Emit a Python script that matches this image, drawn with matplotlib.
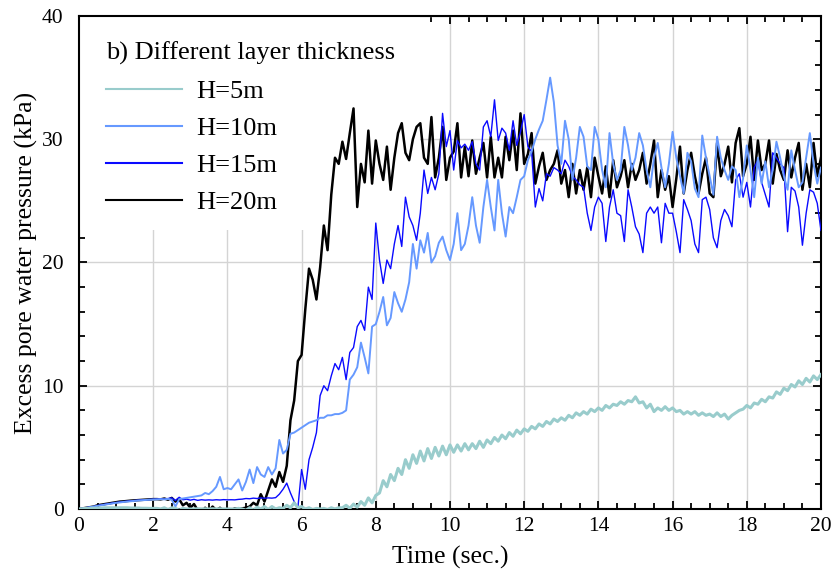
import numpy as np
import matplotlib.pyplot as plt
from matplotlib.patches import Rectangle
from matplotlib.ticker import MultipleLocator

plt.rcParams['font.family'] = ['Liberation Serif', 'DejaVu Serif']

# time axis (sec.), 0.1 s sampling
time = np.linspace(0, 20, 201)

# excess pore water pressure (kPa)
p_h5 = [0.0,
        0.02, 0.04, 0.05, 0.06, 0.08, 0.08, 0.1, 0.1, 0.1, 0.1,
        0.1, 0.1, 0.1, 0.08, 0.08, 0.08, 0.06, 0.06, 0.05, 0.05,
        0.05, 0.0, 0.1, -0.05, 0.1, 0.05, -0.1, 0.05, 0.0, 0.0,
        0.0, 0.02, 0.0, 0.02, 0.0, 0.02, 0.0, 0.02, 0.0, 0.0,
        0.0, 0.0, 0.05, 0.0, -0.1, 0.1, -0.1, 0.15, 0.0, 0.2,
        -0.05, 0.2, 0.0, 0.1, 0.05, 0.3, 0.1, 0.5, 0.1, 0.2,
        0.0, 0.1, -0.05, 0.05, 0.0, 0.05, -0.05, 0.1, 0.0, 0.1,
        0.1, 0.3, 0.05, 0.4, 0.15, 0.6, 0.3, 0.9, 0.5, 1.1,
        1.3, 2.3, 1.8, 2.8, 2.3, 3.3, 2.8, 4.0, 3.3, 4.4,
        3.7, 4.7, 3.9, 4.9, 4.1, 5.0, 4.3, 5.1, 4.4, 5.2,
        4.6, 5.2, 4.7, 5.3, 4.8, 5.3, 4.9, 5.5, 5.0, 5.6,
        5.3, 5.8, 5.5, 6.0, 5.7, 6.2, 5.9, 6.4, 6.1, 6.5,
        6.3, 6.7, 6.5, 6.9, 6.7, 7.1, 6.9, 7.3, 7.1, 7.4,
        7.2, 7.6, 7.4, 7.8, 7.6, 7.9, 7.7, 8.1, 7.9, 8.2,
        8.0, 8.4, 8.2, 8.5, 8.4, 8.7, 8.5, 8.8, 8.7, 9.1,
        8.6, 8.7, 8.2, 8.5, 7.9, 8.2, 8.0, 8.3, 8.0, 8.2,
        7.9, 8.0, 7.7, 7.9, 7.7, 7.9, 7.6, 7.8, 7.6, 7.7,
        7.5, 7.8, 7.5, 7.7, 7.3, 7.6, 7.8, 8.0, 8.1, 8.4,
        8.2, 8.6, 8.5, 8.9, 8.7, 9.1, 9.0, 9.5, 9.3, 9.8,
        9.6, 10.1, 9.9, 10.4, 10.1, 10.6, 10.3, 10.8, 10.5, 10.9]

p_h10 = [0.0,
         0.05, 0.1, 0.15, 0.2, 0.25, 0.3, 0.35, 0.4, 0.45, 0.5,
         0.53, 0.57, 0.6, 0.63, 0.66, 0.69, 0.71, 0.73, 0.75, 0.77,
         0.78, 0.8, 0.78, 0.82, 0.75, 0.2, 0.8, 0.85, 0.9, 0.95,
         1.0, 1.05, 1.1, 1.3, 1.2, 1.45, 1.8, 2.6, 1.6, 1.7,
         1.6, 2.0, 2.4, 1.5, 2.2, 3.2, 2.1, 3.4, 2.8, 2.6,
         3.4, 2.8, 3.3, 5.6, 4.5, 4.8, 6.1, 6.2, 6.4, 6.6,
         6.8, 7.0, 7.1, 7.2, 7.4, 7.4, 7.6, 7.6, 7.7, 7.7,
         7.8, 8.0, 10.5, 10.9, 11.5, 13.5, 12.3, 11.0, 14.8, 15.0,
         16.0, 17.2, 14.9, 15.5, 17.6, 16.7, 16.0, 17.0, 18.4, 21.5,
         19.5, 21.8, 20.8, 22.4, 20.0, 20.5, 21.6, 22.1, 21.0, 20.2,
         21.5, 24.0, 21.0, 21.5, 23.0, 25.3, 23.0, 21.6, 24.5, 26.7,
         24.5, 22.6, 26.7, 24.0, 22.1, 24.5, 24.0, 25.3, 26.7, 27.0,
         28.3, 29.0, 30.0, 30.8, 31.5, 33.2, 35.0, 33.0, 29.5, 28.0,
         31.5, 30.0, 26.7, 28.5, 31.0, 30.2, 27.8, 27.5, 31.0, 30.0,
         27.5, 26.1, 30.5, 28.0, 26.7, 27.5, 31.0, 29.5, 27.5, 28.5,
         30.5, 29.5, 27.5, 26.1, 28.5, 29.7, 27.7, 26.1, 28.0, 30.6,
         28.5, 27.0, 25.6, 28.9, 28.2, 26.0, 25.3, 30.3, 28.5, 27.0,
         25.5, 30.2, 28.5, 27.5, 26.7, 27.8, 27.5, 25.3, 26.8, 29.5,
         27.5, 25.3, 28.5, 26.4, 28.2, 26.1, 27.5, 29.8, 28.5, 27.0,
         25.9, 29.1, 27.5, 26.1, 26.5, 28.5, 30.5, 28.0, 26.4, 27.7]

p_h15 = [0.0,
         0.05, 0.1, 0.15, 0.2, 0.28, 0.33, 0.38, 0.43, 0.48, 0.52,
         0.56, 0.6, 0.63, 0.66, 0.69, 0.71, 0.73, 0.75, 0.77, 0.79,
         0.8, 0.82, 0.8, 0.85, 0.9, 0.7, 0.95, 0.75, 0.8, 0.72,
         0.78, 0.7, 0.75, 0.72, 0.74, 0.72, 0.75, 0.73, 0.76, 0.74,
         0.75, 0.74, 0.78, 0.8, 0.85, 0.83, 0.88, 0.85, 0.9, 0.87,
         0.9, 0.88, 0.92, 1.2, 1.6, 2.1, 1.3, 0.6, 0.1, 3.2,
         1.6, 4.0, 5.0, 6.2, 9.2, 10.0, 9.6, 10.8, 11.8, 11.3,
         12.3, 10.5, 12.7, 13.1, 14.8, 15.3, 14.5, 18.0, 17.0, 23.2,
         20.2, 18.3, 20.2, 19.5, 21.5, 23.0, 21.3, 25.3, 23.7, 23.0,
         21.8, 24.0, 27.5, 25.6, 26.9, 25.9, 27.2, 32.1, 29.4, 30.7,
         27.5, 29.9, 29.3, 29.6, 29.1, 29.8, 28.0, 27.5, 31.0, 31.5,
         30.2, 33.2, 29.9, 30.9, 30.5, 29.1, 31.5, 29.5, 30.6, 32.0,
         29.4, 29.0, 24.5, 26.0, 25.0, 27.2, 27.0, 27.7, 27.5, 27.2,
         28.3, 27.8, 27.0, 26.7, 26.3, 26.1, 24.0, 22.6, 24.5, 25.3,
         24.8, 21.7, 24.5, 25.9, 24.0, 23.8, 21.7, 25.9, 24.5, 22.9,
         22.3, 20.8, 24.0, 24.5, 24.0, 24.5, 21.6, 24.8, 24.0, 24.0,
         22.5, 20.8, 25.1, 24.3, 23.4, 21.5, 20.8, 25.1, 25.3, 24.3,
         22.0, 21.2, 23.4, 24.3, 23.8, 22.9, 26.7, 27.2, 25.3, 26.5,
         24.5, 27.7, 28.3, 26.5, 25.5, 24.5, 28.9, 28.5, 28.0, 27.7,
         22.5, 26.1, 25.8, 24.5, 21.4, 24.0, 25.9, 25.7, 24.8, 22.6]

p_h20 = [0.0,
         0.05, 0.1, 0.15, 0.2, 0.3, 0.35, 0.4, 0.45, 0.5, 0.55,
         0.6, 0.62, 0.65, 0.68, 0.7, 0.72, 0.74, 0.76, 0.78, 0.8,
         0.8, 0.78, 0.85, 0.75, 0.9, 0.6, 0.8, 0.3, 0.5, 0.1,
         0.4, -0.1, -0.4, 0.1, -0.2, 0.2, -0.1, 0.1, -0.2, 0.0,
         -0.1, 0.05, 0.0, 0.05, 0.1, 0.2, 0.5, 0.3, 1.2, 0.6,
         1.5, 2.4, 1.8, 3.0, 2.2, 3.5, 7.2, 8.8, 12.0, 12.5,
         16.2, 19.5, 18.6, 17.0, 19.6, 23.0, 21.0, 25.5, 28.5, 28.0,
         29.8, 28.4, 30.5, 32.5, 24.5, 28.0, 26.5, 30.7, 26.4, 29.9,
         28.0, 26.7, 29.4, 25.9, 28.5, 30.5, 31.3, 28.9, 28.3, 30.0,
         31.0, 31.3, 28.5, 28.0, 31.8, 26.9, 28.5, 31.0, 26.7, 28.5,
         29.0, 31.3, 26.9, 29.4, 27.0, 29.9, 27.2, 28.5, 29.7, 26.9,
         30.2, 26.9, 28.5, 26.9, 30.2, 28.3, 30.7, 27.5, 32.1, 28.0,
         28.8, 30.5, 26.4, 27.8, 28.9, 26.7, 27.5, 28.0, 29.1, 26.4,
         27.5, 25.3, 28.0, 25.6, 27.5, 25.9, 27.7, 25.3, 28.5, 27.0,
         25.6, 27.8, 25.3, 28.3, 26.1, 27.0, 28.3, 26.1, 28.0, 26.7,
         27.5, 28.9, 26.4, 28.0, 29.9, 25.3, 27.5, 25.9, 27.0, 24.5,
         26.8, 29.4, 25.6, 27.5, 28.9, 27.0, 25.6, 27.2, 28.5, 25.6,
         25.3, 29.7, 27.0, 28.0, 29.4, 26.5, 29.7, 30.9, 27.0, 28.0,
         30.2, 26.7, 29.9, 27.5, 28.0, 29.9, 26.4, 28.8, 27.5, 26.7,
         29.1, 26.9, 28.5, 29.7, 25.9, 28.0, 26.1, 29.7, 27.0, 28.5]

labels = ['H=5m', 'H=10m', 'H=15m', 'H=20m']
colors = ['#99cccc', '#6699ff', '#0a0aff', 'black']

fig = plt.figure(figsize=(8.35, 5.75), dpi=100)
ax = fig.add_axes([0.0946, 0.1148, 0.8886, 0.8574])

# draw order: black at bottom, teal on top
l20, = ax.plot(time, p_h20, color=colors[3], lw=1.8, zorder=2)
l15, = ax.plot(time, p_h15, color=colors[2], lw=1.0, zorder=3)
l10, = ax.plot(time, p_h10, color=colors[1], lw=1.4, zorder=4)
l5, = ax.plot(time, p_h5, color=colors[0], lw=2.2, zorder=5)

ax.set_xlim(0, 20)
ax.set_ylim(0, 40)
ax.xaxis.set_major_locator(MultipleLocator(2))
ax.xaxis.set_minor_locator(MultipleLocator(0.5))
ax.yaxis.set_major_locator(MultipleLocator(10))
ax.yaxis.set_minor_locator(MultipleLocator(2))
ax.set_axisbelow(True)
ax.grid(True, which='major', color='#d4d4d4', lw=1.0)

ax.tick_params(which='both', direction='in', top=True, right=True, width=1.3)
ax.tick_params(which='major', length=6, labelsize=15.5)
ax.tick_params(which='minor', length=4)
ax.tick_params(axis='x', pad=6)
ax.tick_params(axis='y', pad=11)
for s in ax.spines.values():
    s.set_linewidth(1.5)

ax.set_xlabel('Time (sec.)', fontsize=18.5, labelpad=7)
ax.set_ylabel('Excess pore water pressure (kPa)', fontsize=18.5, labelpad=3)

# white box behind the legend (covers the grid, not the curves)
ax.add_patch(Rectangle((0, 0.565), 0.46, 0.435, transform=ax.transAxes,
                       facecolor='white', edgecolor='none', zorder=1))

ax.text(0.037, 0.925, 'b) Different layer thickness', transform=ax.transAxes,
        fontsize=19, ha='left', va='center', zorder=6)
leg = ax.legend([l5, l10, l15, l20], labels, loc='upper left',
                bbox_to_anchor=(0.037, 0.871), frameon=False, fontsize=19,
                handlelength=2.85, handletextpad=0.55, labelspacing=0.51,
                borderpad=0, borderaxespad=0)
for h in leg.get_lines():
    h.set_linewidth(1.5)

fig.savefig('out.png', dpi=100)
